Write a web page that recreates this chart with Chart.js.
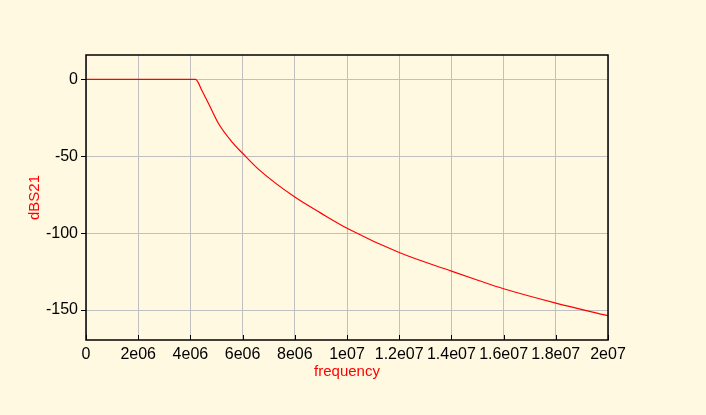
<!DOCTYPE html>
<html>
<head>
<meta charset="utf-8">
<script src="https://cdn.jsdelivr.net/npm/chart.js@4/dist/chart.umd.min.js"></script>
<style>
  html, body { margin: 0; padding: 0; background: #fff9e2; }
  #wrap { width: 706px; height: 415px; }
</style>
</head>
<body>
<div id="wrap"><canvas id="chart"></canvas></div>
<script>
// values
const frequency = [0, 4.2e6, 4.43e6, 4.69e6, 5.07e6, 5.58e6, 6.0e6, 6.67e6, 8.0e6, 9.0e6, 1.0e7, 1.2e7, 1.4e7, 1.507e7, 1.6e7, 1.8e7, 2.0e7];
const dBS21 = [0, 0, -6.9, -15.6, -28.6, -40.5, -48.1, -59.4, -76.6, -87, -96.8, -112.6, -124.7, -131, -136.2, -145.5, -153.7];

const xTicks = [0, 2e6, 4e6, 6e6, 8e6, 1e7, 1.2e7, 1.4e7, 1.6e7, 1.8e7, 2e7];
const xTickLabels = ['0', '2e06', '4e06', '6e06', '8e06', '1e07', '1.2e07', '1.4e07', '1.6e07', '1.8e07', '2e07'];
const yTicks = [-150, -100, -50, 0];
const yTickLabels = ['-150', '-100', '-50', '0'];

const points = frequency.map((f, i) => ({ x: f, y: dBS21[i] }));

// frame on all four sides + small inward ticks on the x axis
const framePlugin = {
    id: 'frame',
    afterDraw(chart) {
        const { ctx, chartArea: a } = chart;
        const xs = chart.scales.x;
        ctx.save();
        ctx.strokeStyle = '#000';
        ctx.lineWidth = 1.5;
        ctx.strokeRect(a.left, a.top, a.right - a.left, a.bottom - a.top);
        ctx.lineWidth = 1;
        xTicks.forEach(v => {
            const px = Math.round(xs.getPixelForValue(v)) + 0.5;
            ctx.beginPath();
            ctx.moveTo(px, a.bottom);
            ctx.lineTo(px, a.bottom - 5);
            ctx.stroke();
        });
        ctx.restore();
    }
};

new Chart(document.getElementById('chart'), {
    type: 'line',
    data: {
        datasets: [{
            data: points,
            borderColor: '#ff0000',
            borderWidth: 1.2,
            pointRadius: 0,
            fill: false,
            cubicInterpolationMode: 'monotone'
        }]
    },
    options: {
        responsive: true,
        maintainAspectRatio: false,
        animation: false,
        layout: { padding: { left: 0, top: 55, right: 98, bottom: 0 } },
        plugins: { legend: { display: false }, tooltip: { enabled: false } },
        scales: {
            x: {
                type: 'linear',
                min: 0,
                max: 2e7,
                afterBuildTicks: s => { s.ticks = xTicks.map(v => ({ value: v })); },
                afterFit: s => { s.height = 75; },
                grid: { color: '#c0c0c0', lineWidth: 1, drawTicks: false },
                border: { display: false },
                ticks: {
                    color: '#000',
                    font: { family: 'Liberation Sans, Arial', size: 16 },
                    padding: 5,
                    maxRotation: 0,
                    autoSkip: false,
                    callback: (v, i) => xTickLabels[i]
                },
                title: {
                    display: true,
                    text: 'frequency',
                    color: '#ff0000',
                    font: { family: 'Liberation Sans, Arial', size: 15 },
                    padding: { top: 0, bottom: 34 }
                }
            },
            y: {
                type: 'linear',
                min: -169.5,
                max: 15.8,
                afterBuildTicks: s => { s.ticks = yTicks.map(v => ({ value: v })); },
                afterFit: s => { s.width = 86; },
                grid: { color: '#c0c0c0', lineWidth: 1, tickColor: '#000', tickLength: 5 },
                border: { display: false },
                ticks: {
                    color: '#000',
                    font: { family: 'Liberation Sans, Arial', size: 16 },
                    padding: 3,
                    autoSkip: false,
                    callback: (v, i) => yTickLabels[i]
                },
                title: {
                    display: true,
                    text: 'dBS21',
                    color: '#ff0000',
                    font: { family: 'Liberation Sans, Arial', size: 15 },
                    padding: { top: 26, bottom: 0 }
                }
            }
        }
    },
    plugins: [framePlugin]
});
</script>
</body>
</html>
